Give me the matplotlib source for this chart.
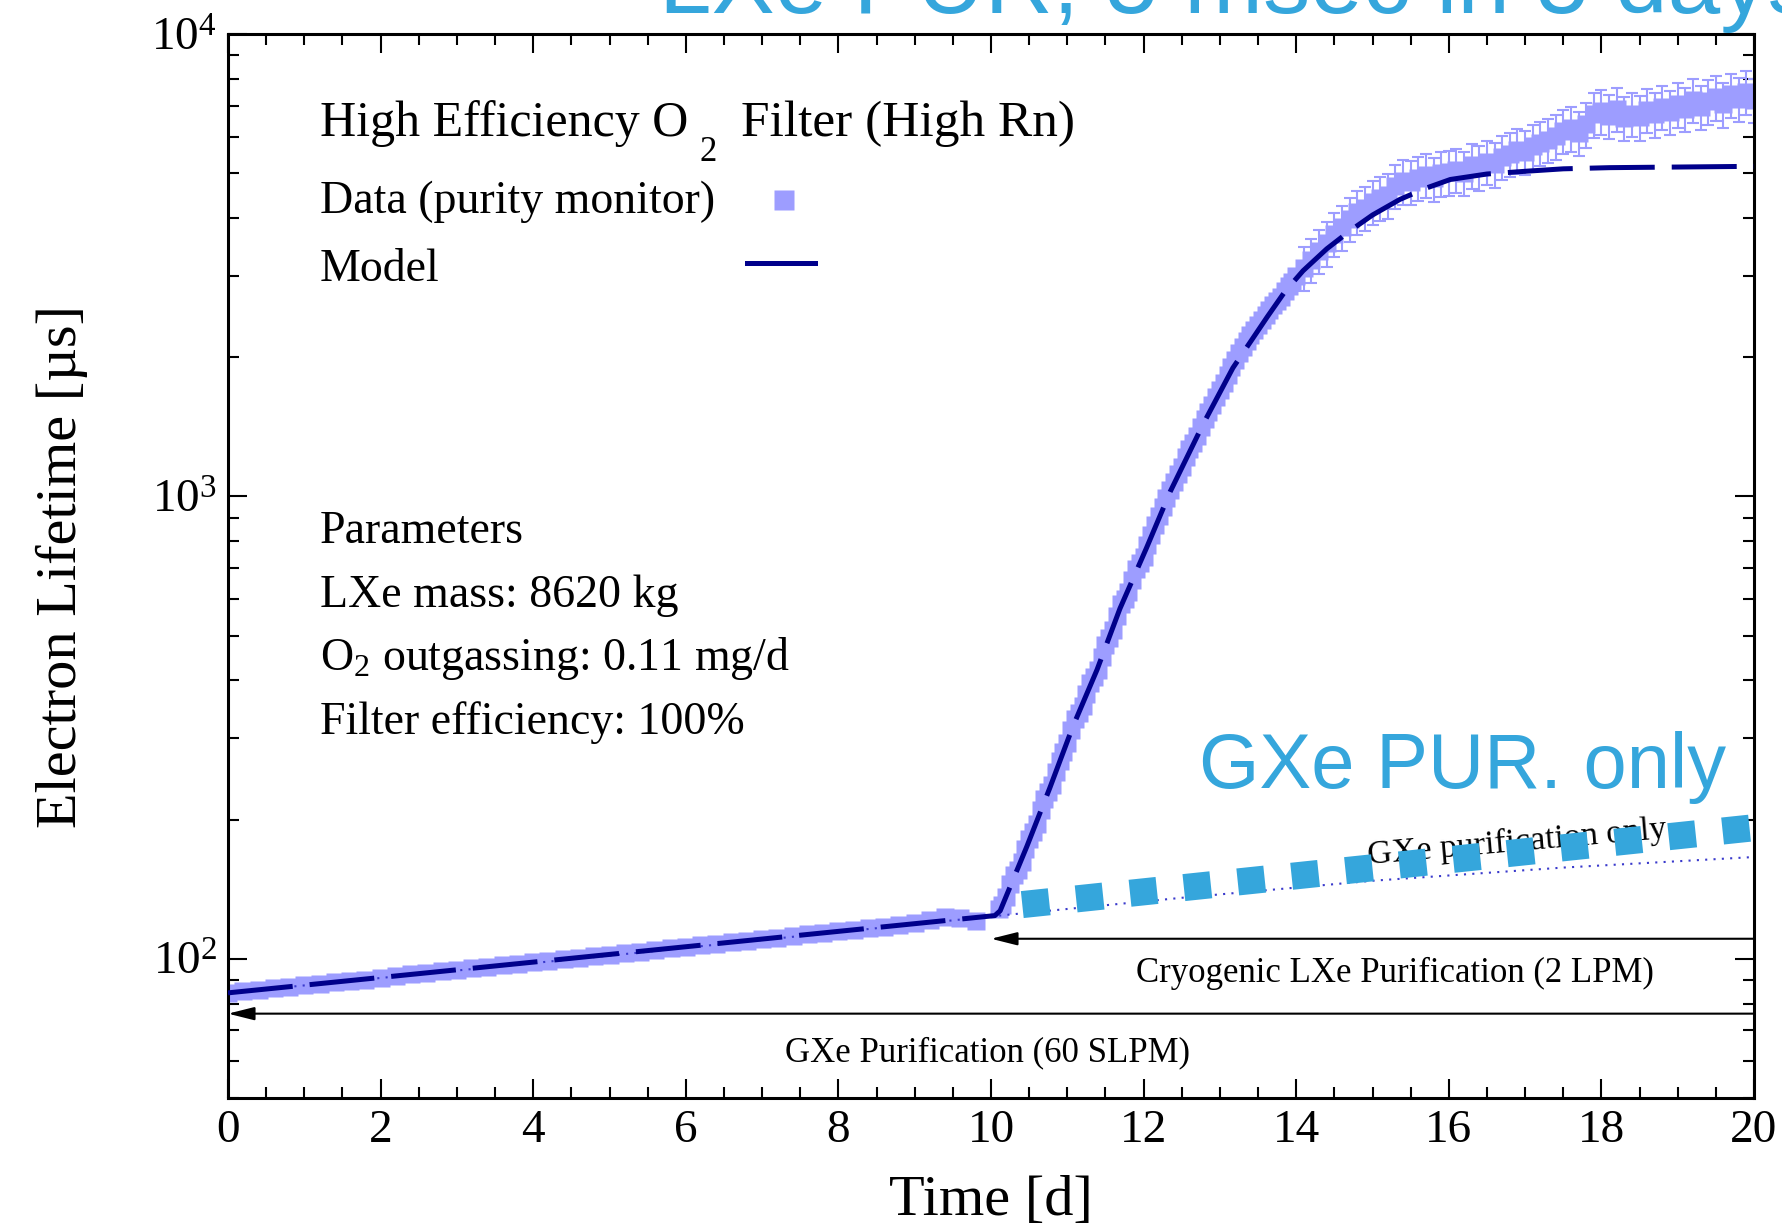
import numpy as np
import matplotlib.pyplot as plt
from matplotlib.ticker import MultipleLocator, LogLocator, NullFormatter

plt.rcParams['font.family'] = ['Liberation Serif', 'DejaVu Serif']
plt.rcParams['mathtext.fontset'] = 'custom'
plt.rcParams['mathtext.rm'] = 'Liberation Serif'
plt.rcParams['mathtext.it'] = 'Liberation Serif:italic'
plt.rcParams['mathtext.bf'] = 'Liberation Serif:bold'

# purity monitor data
t_gxe = np.round(np.arange(0.0, 10.0, 0.2), 1)
tau_gxe = [84.4, 85.1, 85.6, 86.4, 86.9, 87.6, 88.4, 88.9, 89.7, 90.2,
           91.1, 91.6, 92.5, 93.0, 93.9, 94.4, 95.3, 95.9, 96.8, 97.4,
           98.3, 98.9, 99.8, 100.4, 101.4, 102.0, 102.9, 103.7, 104.5, 105.4,
           106.1, 106.9, 107.9, 108.6, 109.5, 110.4, 111.1, 112.1, 112.9, 113.8,
           114.6, 115.5, 116.5, 117.4, 118.6, 119.8, 121.5, 123.0, 122.5, 121.0]
t_rise = np.round(np.arange(10.1, 14.001, 0.05), 2)
tau_rise = [128, 131, 136, 145, 152, 156, 162, 173, 182, 188,
            196, 210, 222, 229, 238, 254, 268, 280, 293, 312,
            330, 340, 352, 374, 395, 407, 421, 449, 476, 494,
            515, 552, 585, 600, 620, 660, 695, 716, 740, 784,
            825, 868, 905, 950, 990, 1030, 1075, 1118, 1160, 1215,
            1265, 1305, 1350, 1412, 1470, 1520, 1575, 1640, 1700, 1762,
            1830, 1905, 1975, 2040, 2100, 2168, 2230, 2290, 2350, 2412,
            2470, 2532, 2590, 2640, 2700, 2780, 2850, 2915, 2990]
t_late = np.round(np.arange(14.1, 20.01, 0.1), 1)
tau_late = [3120, 3250, 3400, 3530, 3700, 3820, 3990, 4120, 4210, 4330,
            4420, 4480, 4690, 4800, 4790, 4880, 4960, 4870, 5000, 5020,
            5080, 5010, 5200, 5150, 5290, 5230, 5420, 5510, 5600, 5560,
            5720, 5820, 5900, 6010, 6180, 6250, 6120, 6380, 6700, 6800,
            6650, 6900, 6580, 6720, 6600, 6850, 6700, 6950, 6780, 7050,
            6900, 7200, 6950, 7150, 7300, 7050, 7400, 7250, 7500, 7200]
err_low = 0.02    # relative error bars, early data
err_high = 0.11   # relative error bars, late data (t > 14 d)

# model curve
t_model = [0, 10.05, 10.12, 10.47, 10.77, 11.07, 11.39, 11.69, 12.04, 12.35,
           12.78, 13.17, 13.62, 13.85, 14.09, 14.4, 14.71, 15.0, 15.36, 15.7,
           16.02, 16.5, 17.02, 17.5, 18.11, 20]
tau_model = [84.4, 124, 127, 175, 234, 317, 422, 572, 775, 1025,
             1433, 1896, 2444, 2770, 3076, 3430, 3758, 4060, 4389, 4640,
             4846, 4980, 5050, 5110, 5140, 5174]

# GXe purification only prediction
t_only = [0, 5, 10, 12.5, 15, 17.5, 20]
tau_only = [84.4, 101.6, 123.5, 135.5, 147.5, 157.5, 166]

data_col = '#9d9dff'
model_col = '#00008b'
note_col = '#35a6dc'

fig = plt.figure(figsize=(17.82, 12.32), dpi=100)
ax = fig.add_axes([228/1782, 1-1098/1232, 1526/1782, 1064/1232])

t_all = np.concatenate([t_gxe, t_rise, t_late])
tau_all = np.array(tau_gxe + tau_rise + tau_late, dtype=float)
rel = np.where(t_all > 14.05, err_high, err_low)
ax.errorbar(t_all, tau_all, yerr=rel*tau_all, fmt='s', color=data_col, ms=13,
            mec='none', ecolor=data_col, elinewidth=1.5, capsize=4, capthick=1.5, zorder=2)

ax.plot(t_only, tau_only, color='#3a3acc', lw=1.5, linestyle=(0, (1, 3)), zorder=3)
ax.plot(t_model, tau_model, color=model_col, lw=3.6, linestyle=(0, (13, 3.4)), zorder=4)

# purification arrows
arrow = dict(arrowstyle='-|>,head_length=0.8,head_width=0.2', color='black', lw=1.5,
             mutation_scale=20, shrinkA=0, shrinkB=0)
ax.annotate('', xy=(10, 110.5), xytext=(20, 110.5), arrowprops=arrow, zorder=5)
ax.annotate('', xy=(0, 76.1), xytext=(20, 76.1), arrowprops=arrow, zorder=5)
ax.text(15.3, 92.8, 'Cryogenic LXe Purification (2 LPM)', ha='center', va='center', fontsize=25)
ax.text(9.96, 62.5, 'GXe Purification (60 SLPM)', ha='center', va='center', fontsize=25)
ax.text(16.9, 178.6, 'GXe purification only', ha='center', va='center', fontsize=24.5,
        rotation=5, rotation_mode='anchor')

ax.set_xlim(0, 20)
ax.set_yscale('log')
ax.set_ylim(50, 1e4)
ax.xaxis.set_major_locator(MultipleLocator(2))
ax.xaxis.set_minor_locator(MultipleLocator(0.5))
ax.yaxis.set_major_locator(LogLocator(base=10, numticks=10))
ax.yaxis.set_minor_locator(LogLocator(base=10, subs=range(2, 10), numticks=20))
ax.yaxis.set_minor_formatter(NullFormatter())
ax.tick_params(which='both', direction='in', top=True, right=True, width=1.5)
ax.tick_params(which='major', length=14, labelsize=34, pad=8)
ax.tick_params(which='minor', length=8)
for s in ax.spines.values():
    s.set_linewidth(2.2)

ax.set_xlabel('Time [d]', fontsize=42, va='center')
ax.xaxis.set_label_coords(0.5, -0.0968)
ax.set_ylabel('Electron Lifetime [µs]', fontsize=42, va='center')
ax.yaxis.set_label_coords(-0.1088, 0.5)

# legend, drawn by hand like the original (gnuplot-style subscript)
tr = ax.transAxes
ax.text(0.0603, 0.904, 'High Efficiency O', transform=tr, fontsize=36, va='baseline')
ax.text(0.3087, 0.8806, '2', transform=tr, fontsize=25, va='baseline')
ax.text(0.3362, 0.904, 'Filter (High Rn)', transform=tr, fontsize=37, va='baseline')
ax.text(0.0603, 0.8318, 'Data (purity monitor)', transform=tr, fontsize=33, va='baseline')
ax.text(0.0603, 0.7679, 'Model', transform=tr, fontsize=33, va='baseline')
ax.plot([0.3643], [0.844], 's', color=data_col, ms=14, mec='none', transform=tr)
ax.plot([0.3401, 0.3847], [0.7848, 0.7848], color=model_col, lw=3.6, transform=tr)

params = ['Parameters', 'LXe mass: 8620 kg', 'O$_2$ outgassing: 0.11 mg/d', 'Filter efficiency: 100%']
for i, p in enumerate(params):
    ax.text(0.0603, 0.5216 - 0.0598*i, p, transform=tr, fontsize=33, va='baseline')

# overlay notes
ax.plot([10.41, 20.25], [131, 194], color=note_col, lw=19.5, linestyle=(0, (1, 1)),
        dash_capstyle='butt', clip_on=False, zorder=6)
fig.text(1199/1782, 1-788/1232, 'GXe PUR. only', color=note_col, fontsize=56,
         family='Liberation Sans', va='baseline')
fig.text(659/1782, 1-13/1232, 'LXe PUR, 5 msec in 5 days', color=note_col, fontsize=68,
         family='Liberation Sans', va='baseline')

fig.savefig('out.png', dpi=100)
